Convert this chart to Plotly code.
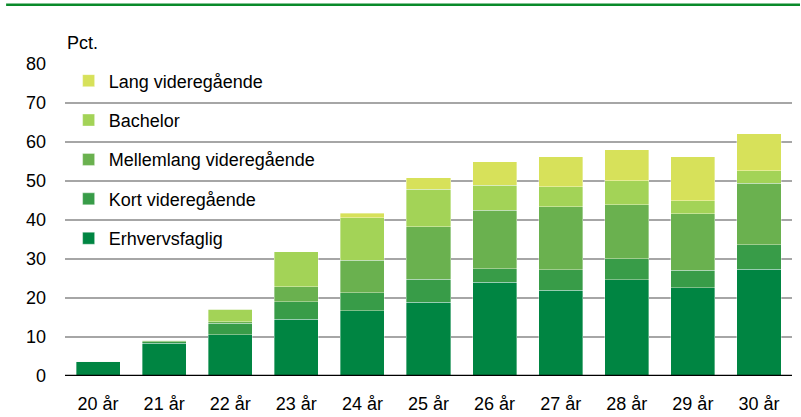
import plotly.graph_objects as go

categories = ["20 år", "21 år", "22 år", "23 år", "24 år", "25 år", "26 år", "27 år", "28 år", "29 år", "30 år"]
erhvervsfaglig = [3.8, 8.4, 10.6, 14.5, 16.7, 18.9, 24.0, 22.0, 24.7, 22.6, 27.4]
kort = [0.0, 0.4, 2.9, 4.6, 4.7, 5.9, 3.5, 5.2, 5.4, 4.5, 6.2]
mellemlang = [0.0, 0.4, 0.4, 3.8, 8.3, 13.5, 15.0, 16.2, 13.8, 14.5, 15.8]
bachelor = [0.0, 0.0, 3.2, 9.0, 10.9, 9.6, 6.4, 5.1, 6.2, 3.3, 3.2]
lang = [0.0, 0.0, 0.0, 0.0, 1.1, 2.9, 6.0, 7.7, 7.9, 11.3, 9.5]
y_ticks = [0, 10, 20, 30, 40, 50, 60, 70, 80]

series = [
    ("Erhvervsfaglig", erhvervsfaglig, "#008542", 5),
    ("Kort videregående", kort, "#389c48", 4),
    ("Mellemlang videregående", mellemlang, "#6ab14f", 3),
    ("Bachelor", bachelor, "#a3d357", 2),
    ("Lang videregående", lang, "#d7e15a", 1),
]

FONT = "Liberation Sans, Arial, sans-serif"

fig = go.Figure()
for name, vals, col, rank in series:
    fig.add_trace(go.Bar(
        x=categories, y=vals, name=name, legendgroup=name, legendrank=rank,
        marker=dict(color=col, line=dict(color="rgba(255,255,255,0.6)", width=0.6)),
    ))

fig.update_layout(
    width=801, height=417,
    margin=dict(l=65, r=9, t=64, b=41),
    barmode="stack", bargap=0.333,
    paper_bgcolor="white", plot_bgcolor="white",
    font=dict(family=FONT, size=18, color="black"),
    showlegend=True,
    legend=dict(
        x=0.005, y=1.005, xanchor="left", yanchor="top",
        traceorder="grouped", tracegroupgap=13,
        bgcolor="rgba(0,0,0,0)", font=dict(family=FONT, size=18),
        itemwidth=30,
    ),
    xaxis=dict(showgrid=False, showline=False, ticks="", tickfont=dict(size=18),
               ticklabelstandoff=15, automargin=False),
    yaxis=dict(
        range=[0, 80], tickvals=y_ticks, showgrid=True, gridcolor="#a6a6a6", gridwidth=1.5,
        zeroline=False, showline=False, ticks="", ticklabelstandoff=18, tickfont=dict(size=18),
        automargin=False,
    ),
    shapes=[
        dict(type="line", xref="paper", yref="y", x0=0, x1=1, y0=0, y1=0,
             line=dict(color="black", width=2.5)),
        dict(type="line", xref="paper", yref="paper", x0=-0.081, x1=1.011, y0=1.19, y1=1.19,
             line=dict(color="#0a8a2a", width=2.5)),
    ],
    annotations=[
        dict(text="Pct.", xref="paper", yref="paper", x=0, y=1.03, xanchor="left", yanchor="bottom",
             showarrow=False, font=dict(family=FONT, size=18)),
    ],
)

fig.write_html("out.html", config={"displayModeBar": False},
               post_script="document.body.style.margin='0';")
